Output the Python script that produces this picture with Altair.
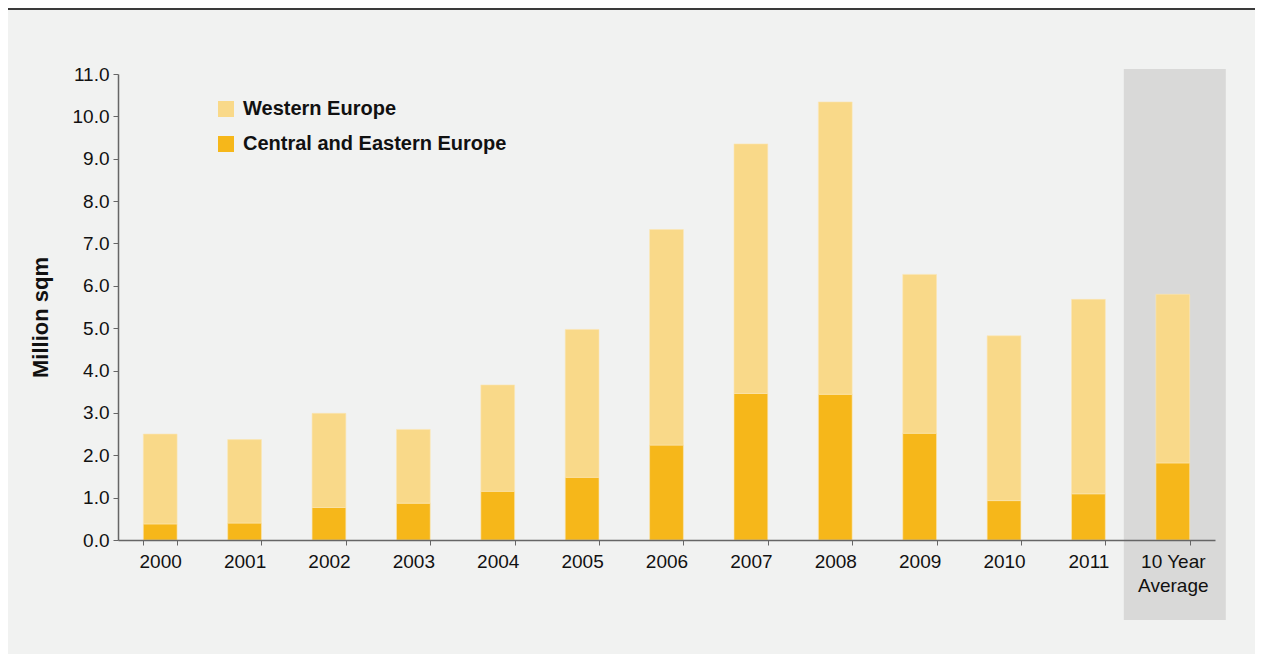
import altair as alt
import pandas as pd

categories = ["2000", "2001", "2002", "2003", "2004", "2005", "2006",
              "2007", "2008", "2009", "2010", "2011", "10 Year Average"]
cee = [0.38, 0.40, 0.77, 0.87, 1.15, 1.48, 2.24, 3.46, 3.44, 2.52, 0.93, 1.09, 1.82]
western = [2.12, 1.97, 2.22, 1.74, 2.51, 3.49, 5.09, 5.89, 6.90, 3.75, 3.89, 4.59, 3.98]
series_names = ["Western Europe", "Central and Eastern Europe"]
series_colors = ["#F9D989", "#F6B71A"]
y_ticks = [0, 1, 2, 3, 4, 5, 6, 7, 8, 9, 10, 11]
highlight = ["10 Year Average"]

rows = []
for i, c in enumerate(categories):
    rows.append({"cat": c, "series": series_names[1], "value": cee[i], "ord": 0})
    rows.append({"cat": c, "series": series_names[0], "value": western[i], "ord": 1})
df = pd.DataFrame(rows)

FONT = "Liberation Sans"

x_enc = alt.X(
    "cat:N", sort=categories,
    scale=alt.Scale(paddingInner=0.6, paddingOuter=0.3),
    axis=alt.Axis(
        title=None, labelAngle=0, tickBand="extent", tickSize=5,
        labelPadding=7, labelFontSize=19, labelColor="#111111",
        labelFont=FONT, domainColor="#666666", tickColor="#666666",
        domainWidth=1.5, labelLineHeight=24, zindex=1,
        labelExpr="datum.label == '10 Year Average' ? ['10 Year', 'Average'] : datum.label",
    ),
)

grey = alt.Chart(pd.DataFrame({"cat": highlight})).mark_bar(
    width=102, xOffset=2, color="#D9D9D8"
).encode(
    x=x_enc,
    y=alt.value(-5),
    y2=alt.value(546),
)

bars = alt.Chart(df).mark_bar(stroke="#FBE6B4", strokeWidth=0.6).encode(
    x=x_enc,
    y=alt.Y(
        "value:Q", stack="zero",
        scale=alt.Scale(domain=[0, 11], nice=False),
        axis=alt.Axis(
            values=y_ticks, format=".1f", grid=False, tickSize=5,
            labelFontSize=19, labelColor="#111111", labelFont=FONT,
            labelPadding=4, domainColor="#666666", tickColor="#666666",
            domainWidth=1.5,
            title="Million sqm", titleFont=FONT, titleFontSize=22,
            titleFontWeight="bold", titleColor="#111111",
            titleX=-78, titleY=243, titleAngle=-90,
            titleBaseline="middle", titleAlign="center",
        ),
    ),
    color=alt.Color(
        "series:N",
        scale=alt.Scale(domain=series_names, range=series_colors),
        legend=alt.Legend(
            title=None, orient="none", legendX=98, legendY=25,
            symbolType="square", symbolSize=256, symbolStrokeWidth=0,
            labelFontSize=20, labelFontWeight="bold", labelFont=FONT,
            labelColor="#111111", rowPadding=15, labelOffset=7, padding=0,
            labelLimit=0,
        ),
    ),
    order=alt.Order("ord:Q"),
)

top_line = alt.Chart(pd.DataFrame({"a": [0]})).mark_rule(
    color="#3a3a3a", strokeWidth=2
).encode(
    x=alt.value(-110), x2=alt.value(1137), y=alt.value(-65),
)

chart = alt.layer(grey, bars, top_line).properties(
    width=1097, height=466,
    autosize=alt.AutoSizeParams(type="none"),
    padding={"left": 110, "top": 66, "right": 40, "bottom": 114},
    background="#F1F2F1",
).configure_view(stroke=None)

chart.save("out.html", embed_options={"renderer": "svg", "actions": False})
